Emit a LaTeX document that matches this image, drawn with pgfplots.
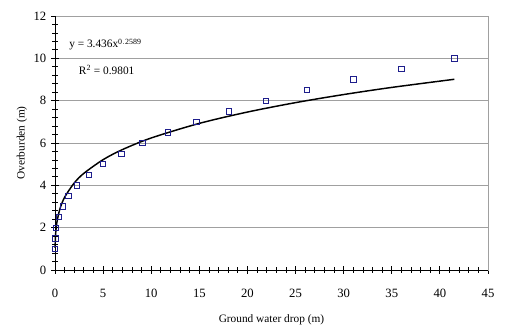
\documentclass[border=0pt]{standalone}
\usepackage{pgfplots}
\pgfplotsset{compat=1.18}
\usepackage{fontspec}
\setmainfont{Liberation Serif}
\definecolor{marknavy}{RGB}{30,30,140}
\definecolor{gridgray}{RGB}{160,160,160}
\begin{document}
\begin{tikzpicture}
\useasboundingbox (-41.25pt,-48pt) rectangle (338.25pt,202.5pt);
\begin{axis}[
  at={(0pt,0pt)}, anchor=south west,
  scale only axis, width=324.75pt, height=190.5pt,
  xmin=0, xmax=45, ymin=0, ymax=12,
  xtick={0,5,...,45}, ytick={0,2,...,12},
  minor x tick num=4, minor y tick num=4,
  tick align=center, xtick pos=left, ytick pos=left,
  major tick length=6pt, minor tick length=4pt,
  every tick/.style={black, line width=0.6pt},
  ymajorgrids, major grid style={gridgray, line width=0.6pt},
  axis line style={gridgray, line width=0.6pt},
  /pgf/number format/assume math mode=true,
  tick label style={font=\fontsize{9.5}{11}\selectfont},
  xticklabel style={yshift=-8pt},
  xlabel={Ground water drop (m)}, ylabel={Overburden (m)},
  label style={font=\fontsize{8.5}{10}\selectfont},
  xlabel style={yshift=-6pt},
  ylabel style={yshift=-2pt},
  clip=false,
]
\addplot[only marks, mark=square, mark size=2pt, mark options={draw=marknavy, line width=0.6pt}] coordinates {
 (0.0,1.0) (0.05,1.5) (0.1,2.0) (0.4,2.5) (0.8,3.0) (1.4,3.5) (2.3,4.0) (3.5,4.5)
 (5.0,5.0) (6.9,5.5) (9.1,6.0) (11.7,6.5) (14.7,7.0) (18.1,7.5) (21.9,8.0)
 (26.2,8.5) (31.0,9.0) (36.0,9.5) (41.5,10.0)
};
\addplot[black, line width=1.1pt, smooth] coordinates {
 (0.01,1.043) (0.05,1.582) (0.1,1.893) (0.2,2.265) (0.5,2.871) (1,3.436)
 (2,4.111) (3,4.567) (5,5.212) (7,5.687) (10,6.237) (15,6.927) (20,7.462)
 (25,7.907) (30,8.289) (35,8.626) (41.5,9.01)
};
\draw[black, line width=0.7pt] (axis cs:0,0) -- (axis cs:45,0);
\draw[black, line width=0.7pt] (axis cs:0,0) -- (axis cs:0,12);
\node[anchor=west, font=\fontsize{8.5}{10}\selectfont] at (axis cs:1.0,10.65) {y = 3.436x$^{\mathrm{0.2589}}$};
\node[anchor=west, font=\fontsize{8.5}{10}\selectfont] at (axis cs:2.0,9.45) {R$^{\mathrm{2}}$ = 0.9801};
\end{axis}
\end{tikzpicture}
\end{document}
